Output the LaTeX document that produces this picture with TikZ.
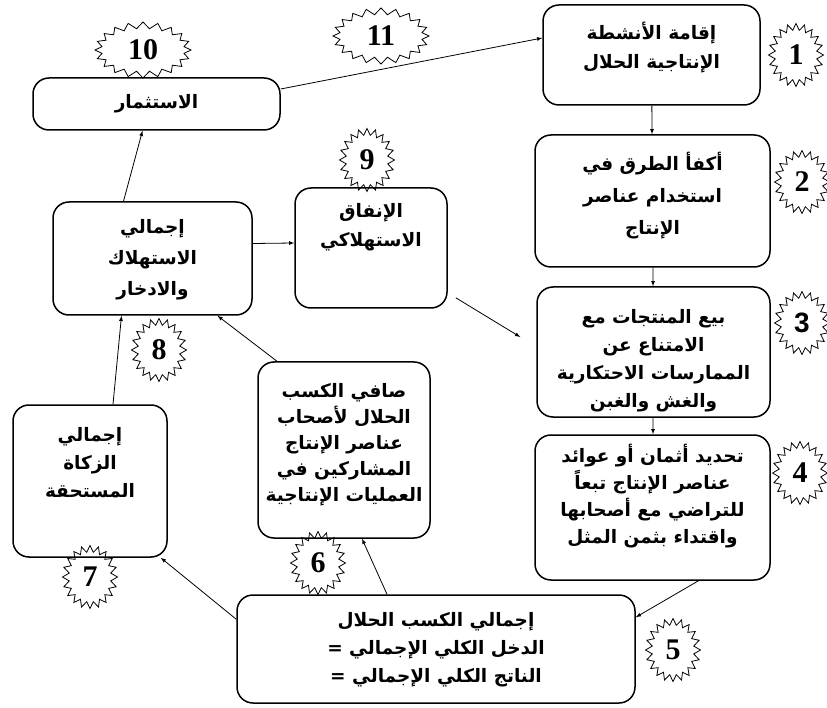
\documentclass[tikz,border=0pt]{standalone}
\usepackage{fontspec}
\setmainfont{Liberation Serif}
\setsansfont{Liberation Sans}
\newfontfamily\arabicfont[Script=Arabic]{DejaVu Sans}
\TeXXeTstate=1
\usetikzlibrary{shapes.symbols, positioning}
\newcommand{\artxt}[1]{\beginR #1\endR}

\begin{document}
\begin{tikzpicture}[x=1pt, y=-1pt,
    box/.style={draw, line width=1.5pt, rounded corners=16pt, inner sep=0pt},
    txt/.style={font=\arabicfont\bfseries\fontsize{18.5}{#1}\selectfont, align=center, inner sep=0pt},
    burst/.style={starburst, draw, line width=0.8pt, starburst points=20, starburst point height=6.5pt,
        random starburst=0, font=\bfseries\fontsize{30}{30}\selectfont, inner sep=0pt,
        minimum width=55pt, minimum height=63pt},
    wideburst/.style={burst, minimum width=96pt, minimum height=56pt},
    link/.style={-latex, line width=0.8pt}]
    \useasboundingbox (0,0) rectangle (827,708);
    \node[box, minimum width=217pt, minimum height=100pt] (b1) at (651.5,55) {};
    \node[box, minimum width=235pt, minimum height=132pt] (b2) at (652.5,201) {};
    \node[box, minimum width=233pt, minimum height=130pt] (b3) at (653.5,352) {};
    \node[box, minimum width=235pt, minimum height=145pt] (b4) at (652.5,507.5) {};
    \node[box, minimum width=398pt, minimum height=108pt] (b5) at (436,649) {};
    \node[box, minimum width=172pt, minimum height=176pt] (b6) at (344,450) {};
    \node[box, minimum width=154pt, minimum height=152pt] (b7) at (90,481) {};
    \node[box, minimum width=199pt, minimum height=113pt] (b8) at (152.5,258.5) {};
    \node[box, minimum width=152pt, minimum height=120pt] (b9) at (371,248) {};
    \node[box, minimum width=247pt, minimum height=52pt, txt=20] (b10) at (156.5,104) {\artxt{الاستثمار}};
    \node[txt=29, below=18pt of b1.north] (t1) {\artxt{إقامة الأنشطة}\\\artxt{الإنتاجية الحلال}};
    \node[txt=32, below=18pt of b2.north] (t2) {\artxt{أكفأ الطرق في}\\\artxt{استخدام عناصر}\\\artxt{الإنتاج}};
    \node[txt=28, below=23pt of b3.north] (t3) {\artxt{بيع المنتجات مع}\\\artxt{الامتناع عن}\\\artxt{الممارسات الاحتكارية}\\\artxt{والغش والغبن}};
    \node[txt=27, below=10pt of b4.north] (t4) {\artxt{تحديد أثمان أو عوائد}\\\artxt{عناصر الإنتاج تبعاً}\\\artxt{للتراضي مع أصحابها}\\\artxt{واقتداء بثمن المثل}};
    \node[txt=28, below=18pt of b5.north] (t5) {\artxt{إجمالي الكسب الحلال}\\\artxt{الدخل الكلي الإجمالي =}\\\artxt{الناتج الكلي الإجمالي =}};
    \node[txt=26, below=22pt of b6.north] (t6) {\artxt{صافي الكسب}\\\artxt{الحلال لأصحاب}\\\artxt{عناصر الإنتاج}\\\artxt{المشاركين في}\\\artxt{العمليات الإنتاجية}};
    \node[txt=28, below=23pt of b7.north] (t7) {\artxt{إجمالي}\\\artxt{الزكاة}\\\artxt{المستحقة}};
    \node[txt=31, below=18pt of b8.north] (t8) {\artxt{إجمالي}\\\artxt{الاستهلاك}\\\artxt{والادخار}};
    \node[txt=29, below=16pt of b9.north] (t9) {\artxt{الإنفاق}\\\artxt{الاستهلاكي}};
    \node[burst] (s1) at (796,55) {1};
    \node[burst] (s2) at (802,182) {2};
    \node[burst, font=\sffamily\bfseries\fontsize{28}{28}\selectfont] (s3) at (802,323) {3};
    \node[burst] (s4) at (800,473) {4};
    \node[burst] (s5) at (673,650) {5};
    \node[burst] (s6) at (318,563) {6};
    \node[burst] (s7) at (90,577) {7};
    \node[burst] (s8) at (159,350) {8};
    \node[burst] (s9) at (367,160) {9};
    \node[wideburst] (s10) at (143,50) {10};
    \node[wideburst] (s11) at (381,36) {11};
    \draw[link] ([yshift=15pt]b10.east) -- ([yshift=17pt]b1.west);
    \draw[link] (b1) -- (b2);
    \draw[link] (b2) -- (b3);
    \draw[link] (b3) -- (b4);
    \draw[link] ([xshift=46pt]b4.south) -- ([yshift=-23pt]b5.north east);
    \draw[link] ([xshift=-49pt]b5.north) -- ([xshift=18pt]b6.south);
    \draw[link] ([yshift=-25pt]b5.north west) -- ([xshift=-7pt]b7.south east);
    \draw[link] ([xshift=-67pt]b6.north) -- ([xshift=65pt]b8.south);
    \draw[link] ([xshift=23pt]b7.north) -- ([xshift=-31pt]b8.south);
    \draw[link] ([xshift=-29pt]b8.north) -- ([xshift=-14pt]b10.south);
    \draw[link] ([yshift=15pt]b8.east) -- ([yshift=5pt]b9.west);
    \draw[link] ([shift={(8pt,11pt)}]b9.south east) -- ([shift={(-16pt,15pt)}]b3.west);
\end{tikzpicture}
\end{document}
